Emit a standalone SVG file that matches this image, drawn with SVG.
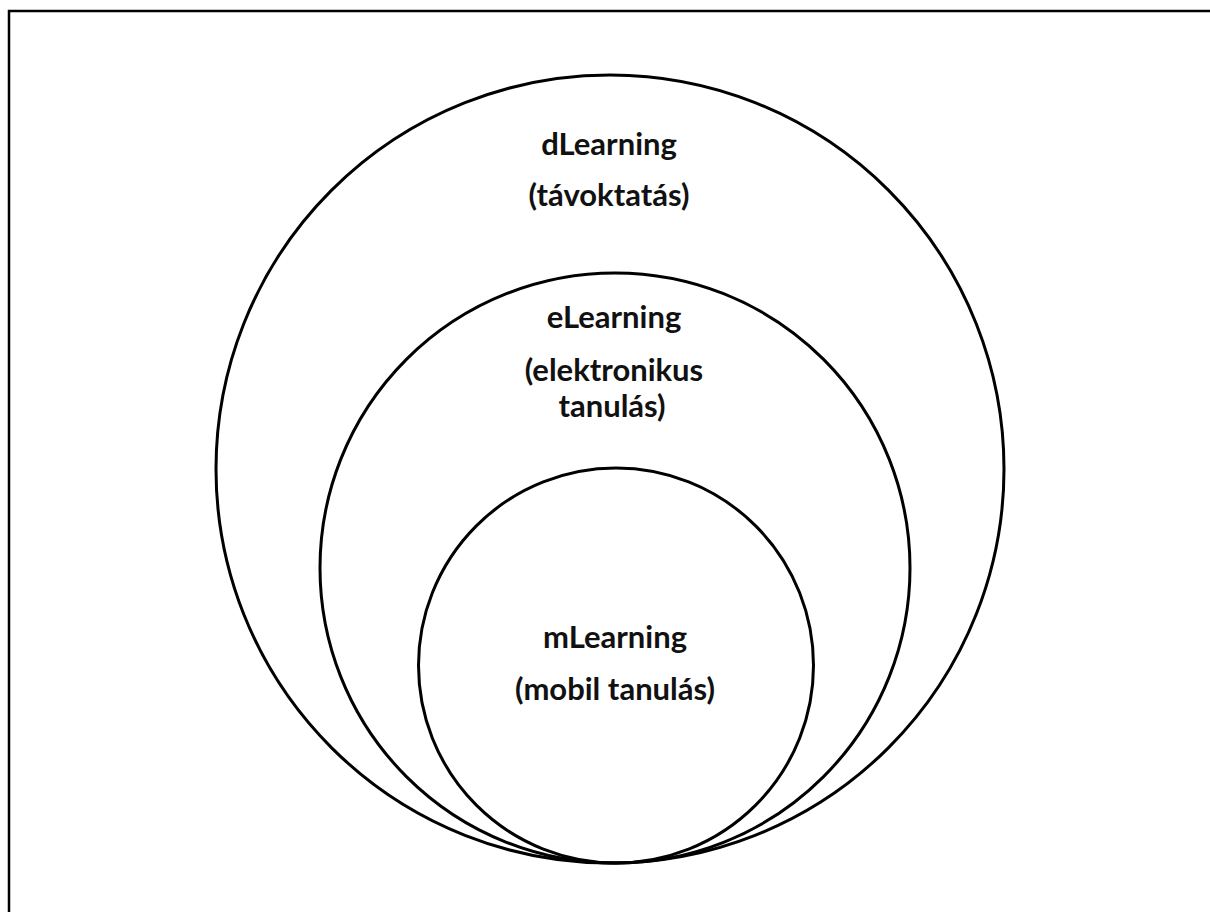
<svg xmlns="http://www.w3.org/2000/svg" width="1210" height="912" viewBox="0 0 1210 912">
<style>
.ring{fill:none;stroke:#000;stroke-width:3}
.lbl{font-family:Lato,"Open Sans","Liberation Sans",sans-serif;font-weight:700;font-size:31px;fill:#111;text-anchor:middle}
</style>
<rect x="0" y="0" width="1210" height="912" fill="#fff"/>
<path d="M9,912 V11 H1210" fill="none" stroke="#000" stroke-width="2.5"/>
<g id="dlearning">
<circle class="ring" cx="610" cy="469" r="394"/>
<text class="lbl" x="609" y="155">dLearning</text>
<text class="lbl" x="609" y="206">(távoktatás)</text>
</g>
<g id="elearning">
<circle class="ring" cx="615" cy="568" r="295"/>
<text class="lbl" x="614" y="328">eLearning</text>
<text class="lbl" x="614" y="381">(elektronikus</text>
<text class="lbl" x="612" y="417">tanulás)</text>
</g>
<g id="mlearning">
<circle class="ring" cx="616" cy="665.5" r="197.5"/>
<text class="lbl" x="615" y="648">mLearning</text>
<text class="lbl" x="615" y="700">(mobil tanulás)</text>
</g>
<g id="connectors"></g>
</svg>
